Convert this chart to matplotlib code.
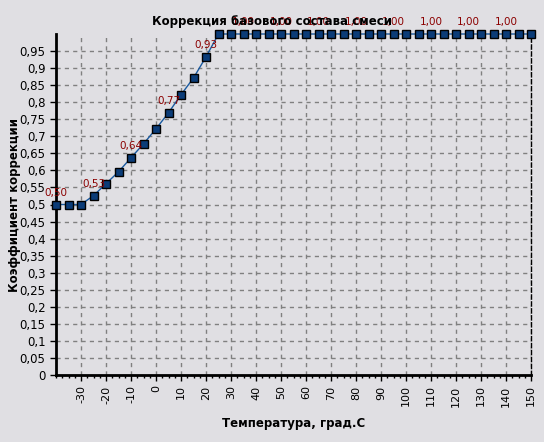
import matplotlib.pyplot as plt
from matplotlib.ticker import MultipleLocator, FuncFormatter

plt.rcParams["axes.unicode_minus"] = False

# Temperature, deg C
temps = [-40, -35, -30, -25, -20, -15, -10, -5, 0, 5, 10, 15, 20, 25,
         30, 35, 40, 45, 50, 55, 60, 65, 70, 75, 80, 85, 90, 95, 100,
         105, 110, 115, 120, 125, 130, 135, 140, 145, 150]
# Correction coefficient
coef = [0.50, 0.50, 0.50, 0.526, 0.561, 0.596, 0.637, 0.678, 0.722, 0.769,
        0.822, 0.871, 0.933, 1.00,
        1.00, 1.00, 1.00, 1.00, 1.00, 1.00, 1.00, 1.00, 1.00, 1.00, 1.00,
        1.00, 1.00, 1.00, 1.00, 1.00, 1.00, 1.00, 1.00, 1.00, 1.00, 1.00,
        1.00, 1.00, 1.00]
x_ticks = list(range(-30, 151, 10))
y_ticks = [i * 0.05 for i in range(20)]

BG = "#e0dfe3"

fig = plt.figure(figsize=(5.44, 4.42), dpi=100, facecolor=BG)
ax = fig.add_axes([56 / 544, 1 - 375 / 442, 475 / 544, 341 / 442])
ax.set_facecolor(BG)

ax.plot(temps, coef, color="#1a5aa0", linewidth=1.0, marker="s",
        markersize=5.5, markerfacecolor="#0b3c78", markeredgecolor="black",
        markeredgewidth=1.0, zorder=5, clip_on=False)

# value labels on every third point
for t, c in list(zip(temps, coef))[::3]:
    ax.annotate(f"{c:.2f}".replace(".", ","), (t, c), xytext=(0, 5),
                textcoords="offset points", ha="center", va="bottom",
                color="#8b0000", fontsize=7.5, zorder=6, annotation_clip=False)

ax.set_xlim(-40, 150)
ax.set_ylim(0, 1.0)
ax.set_xticks(x_ticks)
ax.xaxis.set_minor_locator(MultipleLocator(2.5))
ax.set_yticks(y_ticks)
ax.yaxis.set_major_formatter(FuncFormatter(
    lambda v, p: "0" if abs(v) < 1e-9 else f"{v:.2f}".rstrip("0").replace(".", ",")))
ax.tick_params(axis="x", labelrotation=90, labelsize=8, length=4, width=1)
ax.tick_params(axis="x", which="minor", length=2.5, width=1)
ax.tick_params(axis="y", labelsize=8.5, length=4, width=1)

ax.grid(True, color="#808080", linestyle=(0, (3, 3)), linewidth=1.0)
ax.spines["top"].set_visible(False)
ax.spines["right"].set_linestyle((0, (3, 2)))
ax.spines["right"].set_linewidth(1.0)
ax.spines["left"].set_linewidth(2.0)
ax.spines["bottom"].set_linewidth(2.0)

fig.text(0.5, 1 - 22 / 442, "Коррекция базового состава смеси", ha="center",
         va="center", fontsize=8.5, fontweight="bold")
ax.set_xlabel("Температура, град.С", fontsize=8.5, fontweight="bold")
ax.set_ylabel("Коэффициент коррекции", fontsize=8.5, fontweight="bold")
ax.xaxis.set_label_coords(0.5, -(424 - 375) / 341)
ax.yaxis.set_label_coords(-(56 - 15) / 475, 0.5)
ax.xaxis.label.set_va("center")
ax.yaxis.label.set_va("center")

fig.savefig("out.png", dpi=100, facecolor=BG)
